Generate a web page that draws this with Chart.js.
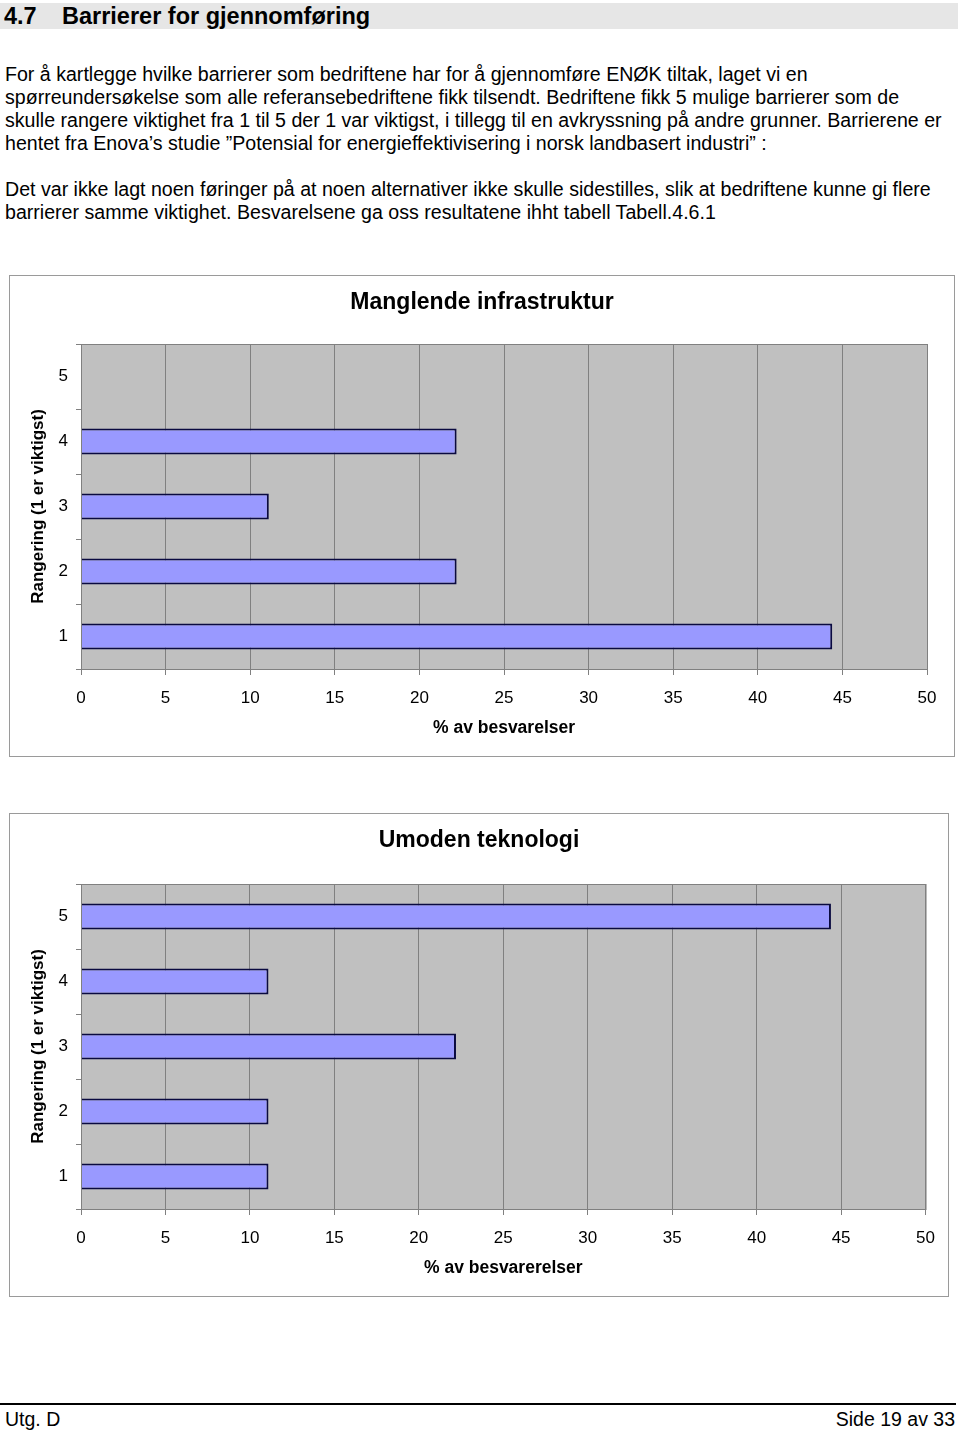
<!DOCTYPE html>
<html>
<head>
<meta charset="utf-8">
<script src="https://cdn.jsdelivr.net/npm/chart.js@4"></script>
<style>
  body { margin: 0; width: 960px; height: 1434px; background: #fff; font-family: "Liberation Sans", Arial, sans-serif; color: #000; position: relative; }
  .heading { position: absolute; left: 0; top: 3px; width: 958px; height: 26px; background: #e6e6e6; font-weight: bold; font-size: 23.5px; line-height: 27px; }
  .heading .num { position: absolute; left: 4px; }
  .heading .txt { position: absolute; left: 62px; }
  .para { position: absolute; left: 5px; font-size: 19.6px; line-height: 23px; white-space: nowrap; }
  .box { position: absolute; border: 1px solid #9a9a9a; background: #fff; }
  .footline { position: absolute; left: 0; top: 1403px; width: 956px; height: 2px; background: #000; }
  .foot { position: absolute; top: 1408px; font-size: 19.5px; line-height: 22px; }
</style>
</head>
<body>
<div class="heading"><span class="num">4.7</span><span class="txt">Barrierer for gjennomføring</span></div>

<div class="para" style="top:63px">
For å kartlegge hvilke barrierer som bedriftene har for å gjennomføre ENØK tiltak, laget vi en<br>
spørreundersøkelse som alle referansebedriftene fikk tilsendt. Bedriftene fikk 5 mulige barrierer som de<br>
skulle rangere viktighet fra 1 til 5 der 1 var viktigst, i tillegg til en avkryssning på andre grunner. Barrierene er<br>
hentet fra Enova’s studie ”Potensial for energieffektivisering i norsk landbasert industri” :
</div>
<div class="para" style="top:178px">
Det var ikke lagt noen føringer på at noen alternativer ikke skulle sidestilles, slik at bedriftene kunne gi flere<br>
barrierer samme viktighet. Besvarelsene ga oss resultatene ihht tabell Tabell.4.6.1
</div>

<div class="box" style="left:9px; top:275px; width:944px; height:480px;">
  <canvas id="chart1" width="944" height="480"></canvas>
</div>
<div class="box" style="left:9px; top:813px; width:938px; height:482px;">
  <canvas id="chart2" width="938" height="482"></canvas>
</div>

<div class="footline"></div>
<div class="foot" style="left:5px">Utg. D</div>
<div class="foot" style="right:5px">Side 19 av 33</div>

<script>
// Rangering labels, 5 on top
const rankLabels = ['5', '4', '3', '2', '1'];

// % av besvarelser per rangering
const infraValues = [0, 22.2, 11.1, 22.2, 44.4];
const teknologiValues = [44.4, 11.1, 22.2, 11.1, 11.1];

const infraTitle = 'Manglende infrastruktur';
const teknologiTitle = 'Umoden teknologi';
const infraXTitle = '% av besvarelser';
const teknologiXTitle = '% av besvarerelser';
const yTitle = 'Rangering (1 er viktigst)';

// gray plot background + frame, like the old excel charts
const plotFrame = {
    id: 'plotFrame',
    beforeDraw(chart) {
        const a = chart.chartArea;
        const ctx = chart.ctx;
        ctx.save();
        ctx.fillStyle = '#c0c0c0';
        ctx.fillRect(a.left, a.top, a.right - a.left, a.bottom - a.top);
        ctx.restore();
    },
    afterDraw(chart) {
        const a = chart.chartArea;
        const ctx = chart.ctx;
        ctx.save();
        ctx.strokeStyle = '#808080';
        ctx.lineWidth = 1;
        ctx.strokeRect(a.left + 0.5, a.top + 0.5, a.right - a.left, a.bottom - a.top);
        ctx.restore();
    }
};

function makeChart(id, values, title, xTitle, plotTop, rightSpace) {
    const data = {
        labels: rankLabels,
        datasets: [{
            data: values,
            backgroundColor: '#9999ff',
            borderColor: '#0a0a40',
            borderWidth: 2,
            barPercentage: 0.4,
            categoryPercentage: 1
        }]
    };

    const config = {
        type: 'bar',
        data: data,
        options: {
            indexAxis: 'y',
            responsive: false,
            animation: false,
            layout: { padding: 0 },
            plugins: {
                legend: { display: false },
                tooltip: { enabled: false },
                title: {
                    display: true,
                    text: title,
                    color: '#000',
                    font: { family: 'Liberation Sans', size: 23, weight: 'bold' },
                    padding: { top: 13, bottom: plotTop - 13 - 27.6 }
                }
            },
            scales: {
                x: {
                    min: 0,
                    max: 50,
                    ticks: { stepSize: 5, color: '#000', padding: 13, maxRotation: 0,
                             font: { family: 'Liberation Sans', size: 17 } },
                    grid: { color: '#808080', tickLength: 6 },
                    border: { color: '#808080' },
                    title: {
                        display: true,
                        text: xTitle,
                        color: '#000',
                        font: { family: 'Liberation Sans', size: 17.5, weight: 'bold' },
                        padding: { top: 4, bottom: 17 }
                    },
                    afterFit: function(scale) { scale.height = 87; }
                },
                y: {
                    ticks: { color: '#000', padding: 8,
                             font: { family: 'Liberation Sans', size: 17 } },
                    grid: { drawOnChartArea: false, color: '#808080', tickLength: 5 },
                    border: { color: '#808080' },
                    title: {
                        display: true,
                        text: yTitle,
                        color: '#000',
                        font: { family: 'Liberation Sans', size: 17, weight: 'bold' },
                        padding: { top: 18, bottom: 4 }
                    },
                    afterFit: function(scale) { scale.width = 71; }
                },
                // empty right margin so the title stays centred on the box
                yRight: {
                    type: 'linear',
                    position: 'right',
                    ticks: { display: false },
                    grid: { display: false },
                    border: { display: false },
                    afterFit: function(scale) { scale.width = rightSpace; }
                }
            }
        },
        plugins: [plotFrame]
    };

    return new Chart(document.getElementById(id), config);
}

makeChart('chart1', infraValues, infraTitle, infraXTitle, 68, 27);
makeChart('chart2', teknologiValues, teknologiTitle, teknologiXTitle, 70, 21);
</script>
</body>
</html>
